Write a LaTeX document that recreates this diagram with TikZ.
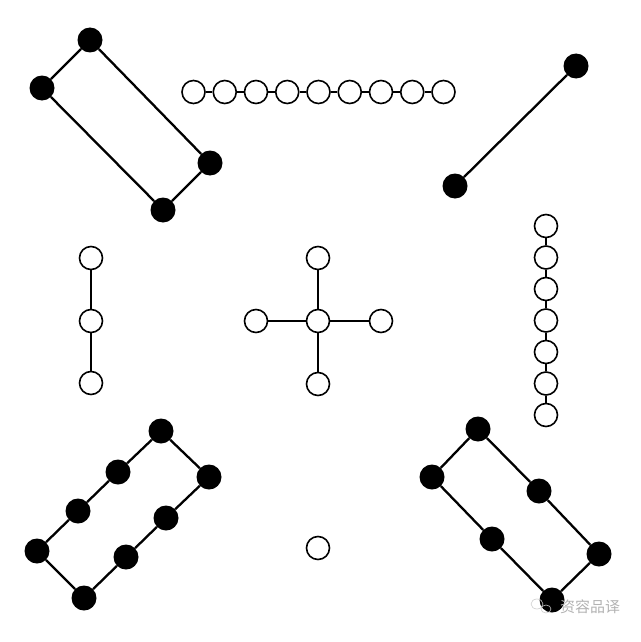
\documentclass[tikz,border=0pt]{standalone}
\usepackage{fontspec}
\newfontfamily\cjk{Noto Sans CJK SC}
\usetikzlibrary{positioning}

\begin{document}
\begin{tikzpicture}[x=1pt,y=-1pt,
    yang/.style={circle,draw,fill=white,line width=1.6pt,minimum size=23pt,inner sep=0pt},
    yin/.style={circle,fill=black,minimum size=25pt,inner sep=0pt},
    link/.style={line width=2.3pt}]
    \useasboundingbox (0,0) rectangle (640,642);
    % 1: bottom centre
    \node[yang] (One) at (318,548) {};
    % 2: top left
    \node[yin] (TwoA) at (90,40) {};
    \node[yin] (TwoB) at (42,88) {};
    \node[yin] (TwoC) at (163,210) {};
    \node[yin] (TwoD) at (210,163) {};
    \draw[link] (TwoA) -- (TwoB) -- (TwoC) -- (TwoD) -- (TwoA);
    % 3: left
    \node[yang] (ThreeA) at (91,258) {};
    \node[yang] (ThreeB) at (91,321) {};
    \node[yang] (ThreeC) at (91,383) {};
    \draw[link] (ThreeA) -- (ThreeB) -- (ThreeC);
    % 4: bottom left
    \node[yin] (FourA) at (161,431) {};
    \node[yin] (FourB) at (118,472) {};
    \node[yin] (FourC) at (78,511) {};
    \node[yin] (FourD) at (37,551) {};
    \node[yin] (FourE) at (84,598) {};
    \node[yin] (FourF) at (126,557) {};
    \node[yin] (FourG) at (166,518) {};
    \node[yin] (FourH) at (209,477) {};
    \draw[link] (FourA) -- (FourB) -- (FourC) -- (FourD) -- (FourE)
        -- (FourF) -- (FourG) -- (FourH) -- (FourA);
    % 5: centre
    \node[yang] (Five) at (318,321) {};
    \node[yang] (FiveN) at (318,258) {};
    \node[yang] (FiveW) at (256,321) {};
    \node[yang] (FiveE) at (381,321) {};
    \node[yang] (FiveS) at (318,384) {};
    \draw[link] (Five) -- (FiveN);
    \draw[link] (Five) -- (FiveW);
    \draw[link] (Five) -- (FiveE);
    \draw[link] (Five) -- (FiveS);
    % 6: bottom right
    \node[yin] (SixA) at (478,429) {};
    \node[yin] (SixB) at (539,491) {};
    \node[yin] (SixC) at (599,554) {};
    \node[yin] (SixD) at (552,600) {};
    \node[yin] (SixE) at (492,539) {};
    \node[yin] (SixF) at (432,477) {};
    \draw[link] (SixA) -- (SixB) -- (SixC) -- (SixD) -- (SixE) -- (SixF) -- (SixA);
    % 7: right
    \foreach \i in {1,...,7}
        \node[yang] (Seven\i) at (546,{226+31.5*(\i-1)}) {};
    \foreach \i/\j in {1/2,2/3,3/4,4/5,5/6,6/7}
        \draw[link] (Seven\i) -- (Seven\j);
    % 8: top right
    \node[yin] (EightA) at (576,66) {};
    \node[yin] (EightB) at (455,186) {};
    \draw[link] (EightA) -- (EightB);
    % 9: top
    \foreach \i in {1,...,9}
        \node[yang] (Nine\i) at ({193.5+31.25*(\i-1)},92) {};
    \foreach \i/\j in {1/2,2/3,3/4,4/5,5/6,6/7,7/8,8/9}
        \draw[link] (Nine\i) -- (Nine\j);
    % watermark
    \draw[gray!40,line width=0.6pt] (537,604) ellipse (6pt and 5pt);
    \draw[gray!40,line width=0.6pt] (546,609) ellipse (5pt and 4pt);
    \node[gray!60,font=\cjk\fontsize{15}{15}\selectfont] (Mark) at (590,607) {资容品译};
\end{tikzpicture}
\end{document}
